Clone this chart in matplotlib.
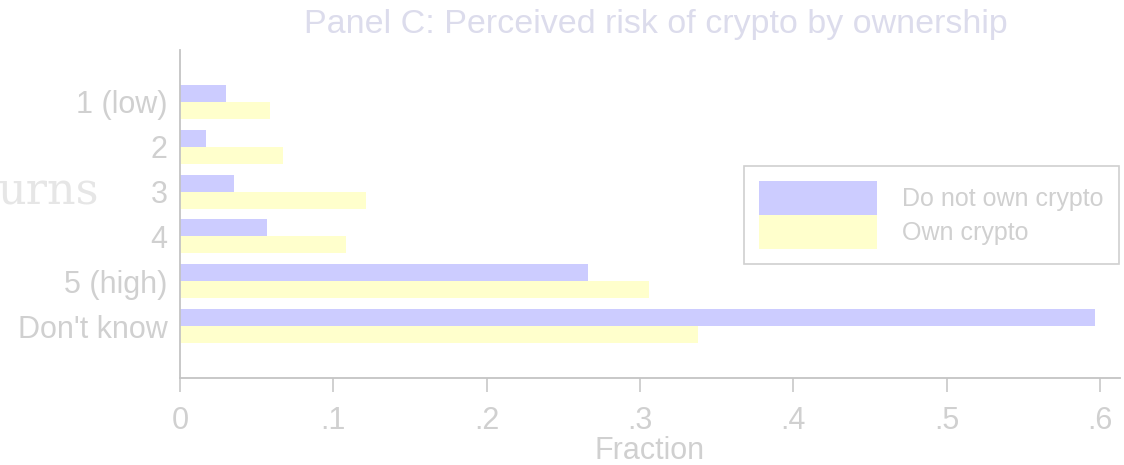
import numpy as np
import matplotlib.pyplot as plt
from matplotlib.patches import Patch

# perceived risk answers, share of respondents in each ownership group
categories = ['1 (low)', '2', '3', '4', '5 (high)', "Don't know"]
no_crypto = [0.030, 0.017, 0.035, 0.057, 0.266, 0.597]
own_crypto = [0.059, 0.067, 0.121, 0.108, 0.306, 0.338]
xticks = [0, 0.1, 0.2, 0.3, 0.4, 0.5, 0.6]
xticklabels = ['0', '.1', '.2', '.3', '.4', '.5', '.6']

blue = '#ccccff'
yellow = '#ffffcc'
grey_txt = '#d0d0d0'
grey_line = '#c4c4c4'

plt.rcParams['font.family'] = ['Liberation Sans', 'DejaVu Sans']

fig = plt.figure(figsize=(11.24, 4.65), dpi=100)
ax = fig.add_axes([180 / 1124, 1 - 378 / 465, 940 / 1124, 328 / 465])

pos = np.arange(len(categories))
h = 0.38
ax.barh(pos - h / 2, no_crypto, height=h, color=blue, label='Do not own crypto')
ax.barh(pos + h / 2, own_crypto, height=h, color=yellow, label='Own crypto')

ax.set_xlim(0, 940 / 1533.3)
ax.set_ylim(5 + 1.16, -1.16)
ax.set_yticks(pos)
ax.set_yticklabels(categories)
ax.set_xticks(xticks)
ax.set_xticklabels(xticklabels)

for s in ['top', 'right']:
    ax.spines[s].set_visible(False)
for s in ['left', 'bottom']:
    ax.spines[s].set_color(grey_line)
    ax.spines[s].set_linewidth(1.3)

ax.tick_params(axis='y', length=0, pad=9, labelsize=22, labelcolor=grey_txt)
ax.tick_params(axis='x', length=10, width=1.1, color=grey_line, pad=10,
               labelsize=22, labelcolor=grey_txt)
ax.set_xlabel('Fraction', fontsize=22, color=grey_txt, labelpad=0)

fig.text(656 / 1124, 1 - 24 / 465, 'Panel C: Perceived risk of crypto by ownership',
         ha='center', va='center', fontsize=24.5, color='#dcdcec')

# bit of a serif heading bleeding in from the left margin
fig.text(-2 / 1124, 1 - 192 / 465, 'urns', ha='left', va='center',
         fontsize=32, color='#e6e6e6', family='DejaVu Serif')

handles = [Patch(facecolor=blue, edgecolor='none'), Patch(facecolor=yellow, edgecolor='none')]
leg = ax.legend(handles, ['Do not own crypto', 'Own crypto'],
                loc='upper left', bbox_to_anchor=((744 - 180) / 940, 1 - (166 - 50) / 328),
                frameon=True, fancybox=False, fontsize=18, handlelength=4.72,
                handleheight=1.70, labelspacing=0.0, borderpad=0.6, handletextpad=1.0,
                borderaxespad=0)
leg.get_frame().set_edgecolor(grey_line)
leg.get_frame().set_linewidth(1.2)
for t in leg.get_texts():
    t.set_color(grey_txt)

fig.savefig('out.png', dpi=100)
